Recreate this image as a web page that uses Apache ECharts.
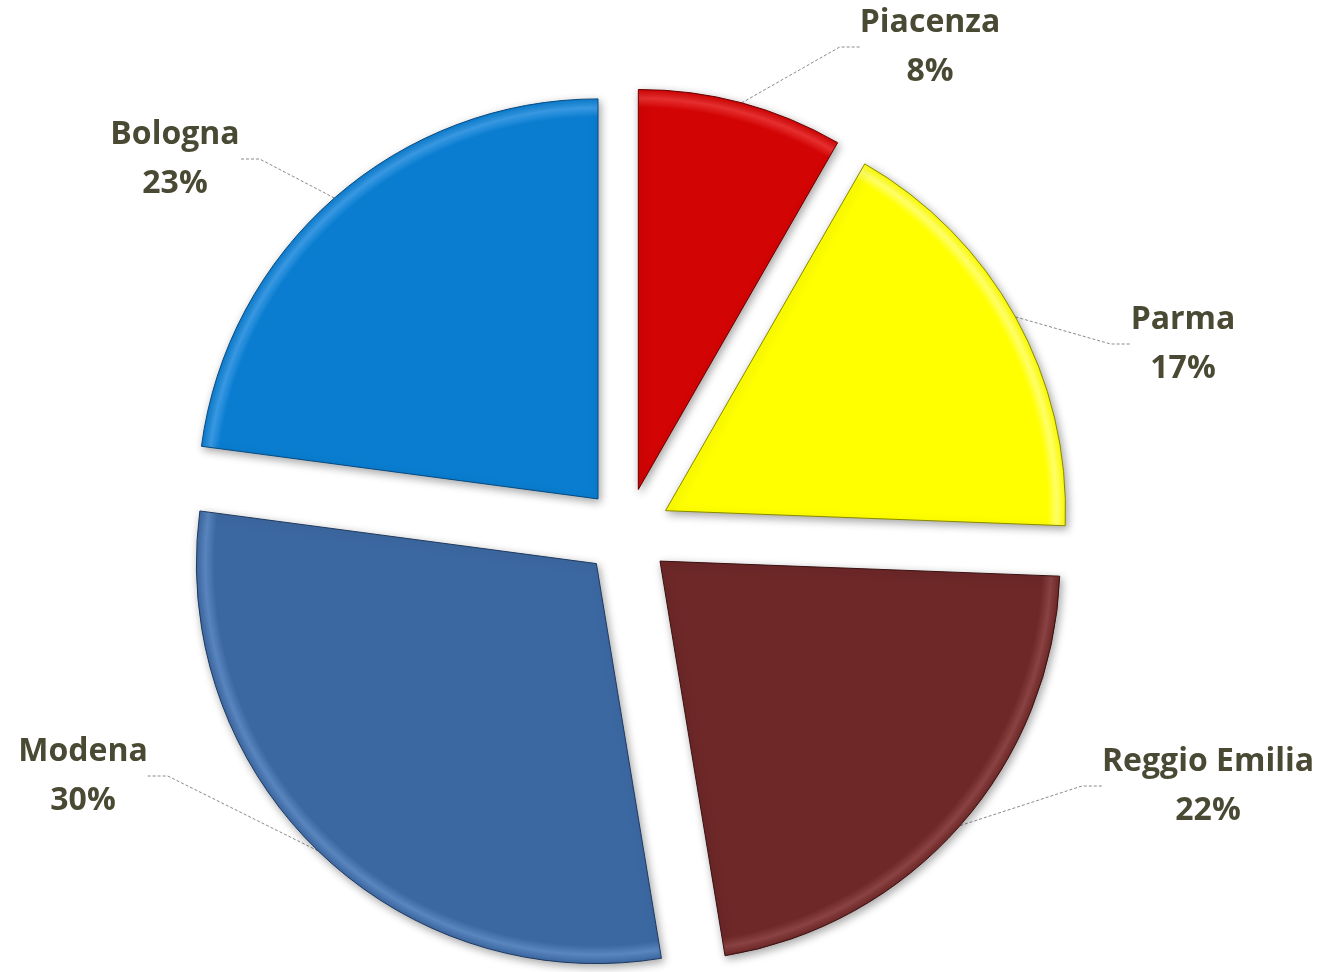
<!DOCTYPE html>
<html>
<head>
<meta charset="utf-8">
<script src="https://cdn.jsdelivr.net/npm/echarts@6/dist/echarts.min.js"></script>
<style>
html,body{margin:0;padding:0;background:#fff;}
#chart{width:1325px;height:972px;}
</style>
</head>
<body>
<div id="chart"></div>
<script>
// Data
var provinces = ['Piacenza', 'Parma', 'Reggio Emilia', 'Modena', 'Bologna'];
var shares = [8.3, 17.3, 21.8, 29.7, 22.9];

// Styles and layout (not data)
var fillColors = ['#d20404', '#ffff00', '#6e2828', '#3c68a2', '#0a7dd0'];
var lightColors = ['#e83030', '#ffff6a', '#8a4242', '#5a86c0', '#3a9ae4'];
var edgeColors = ['#6a0000', '#8a8a00', '#3a1010', '#1f3a60', '#064a80'];
var labelAnchors = [[930, 47], [1183, 344], [1208, 786], [83, 776], [175, 159]];
var pieCenter = [627, 532];
var pieRadius = 400;
var explode = 44;

var total = shares.reduce(function (a, b) { return a + b; }, 0);

var chart = echarts.init(document.getElementById('chart'), null, {renderer: 'canvas'});

var hidden = {
  itemStyle: {color: 'rgba(0,0,0,0)', borderWidth: 0, shadowBlur: 0, shadowColor: 'rgba(0,0,0,0)'},
  label: {show: false},
  labelLine: {show: false}
};

var series = [];
var cum = 0;
provinces.forEach(function (name, i) {
  var before = cum;
  var after = total - cum - shares[i];
  var mid = (before + shares[i] / 2) / total * 2 * Math.PI;
  var cx = pieCenter[0] + explode * Math.sin(mid);
  var cy = pieCenter[1] - explode * Math.cos(mid);
  cum += shares[i];
  var data = [];
  if (before > 0) data.push(Object.assign({name: '_b' + i, value: before}, hidden));
  data.push({
    name: name,
    value: shares[i],
    itemStyle: {
      color: {
        type: 'radial', x: cx, y: cy, r: pieRadius, global: true,
        colorStops: [
          {offset: 0, color: fillColors[i]},
          {offset: 0.955, color: fillColors[i]},
          {offset: 0.978, color: lightColors[i]},
          {offset: 1, color: fillColors[i]}
        ]
      },
      borderColor: edgeColors[i],
      borderWidth: 1,
      shadowBlur: 8,
      shadowColor: 'rgba(0,0,0,0.35)',
      shadowOffsetX: 2,
      shadowOffsetY: 3
    }
  });
  if (after > 0.0001) data.push(Object.assign({name: '_a' + i, value: after}, hidden));
  series.push({
    type: 'pie',
    center: [cx, cy],
    radius: [0, pieRadius],
    startAngle: 90,
    clockwise: true,
    silent: true,
    avoidLabelOverlap: false,
    emphasis: {disabled: true},
    label: {
      show: true,
      position: 'outside',
      formatter: function (p) { return p.name + '\n' + Math.round(p.value / total * 100) + '%'; },
      fontFamily: 'Open Sans',
      fontWeight: 'bold',
      fontSize: 32,
      lineHeight: 49,
      color: '#4a4a34',
      align: 'center'
    },
    labelLine: {
      show: true,
      length: 30,
      length2: 20,
      lineStyle: {color: '#8a8a8a', width: 1, type: [3, 2]}
    },
    labelLayout: (function (idx) {
      return function () {
        var p = labelAnchors[idx];
        return {x: p[0], y: p[1], align: 'center', verticalAlign: 'middle'};
      };
    })(i),
    data: data
  });
});

chart.setOption({
  backgroundColor: '#ffffff',
  animation: false,
  series: series
});
</script>
</body>
</html>
